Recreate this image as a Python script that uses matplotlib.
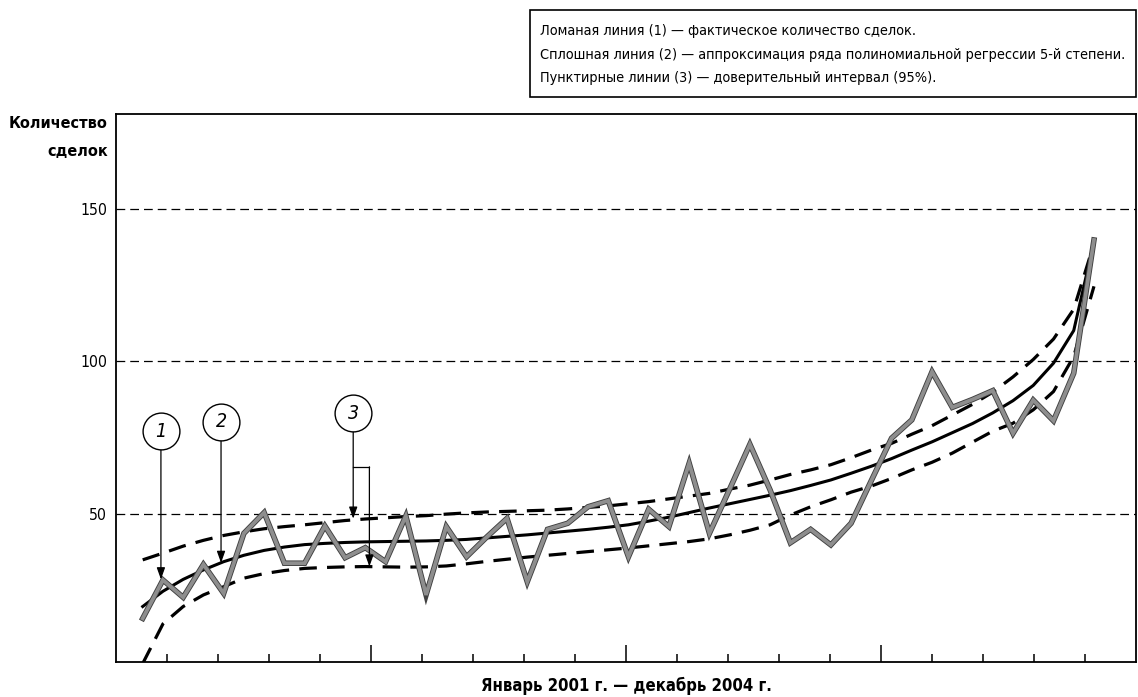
import numpy as np
import matplotlib
matplotlib.use("Agg")
import matplotlib.pyplot as plt
import matplotlib.patheffects as pe
from matplotlib import font_manager as fm
from matplotlib.patches import Rectangle

# фактическое количество сделок по месяцам, январь 2001 - декабрь 2004
actual = [15.6, 28.2, 22.5, 33.3, 23.8, 43.5, 50.3, 33.7, 33.7, 45.9, 35.5, 38.8,
          34.2, 49.2, 23.3, 45.7, 35.8, 42.3, 48.4, 27.6, 44.8, 46.8, 52.2, 54.2,
          35.8, 51.4, 45.7, 66.5, 43.5, 58.0, 72.7, 57.7, 40.4, 44.8, 39.7, 46.8,
          60.8, 74.7, 80.7, 96.5, 84.8, 87.4, 90.3, 76.3, 87.2, 80.4, 96.0, 139.7]

# аппроксимация (полином 5-й степени)
fitted = [19.5, 24.5, 28.4, 31.5, 34.2, 36.3, 37.9, 39.0, 39.8, 40.2, 40.5, 40.7,
          40.8, 40.9, 41.0, 41.2, 41.5, 42.0, 42.5, 43.0, 43.6, 44.2, 44.8, 45.5,
          46.3, 47.5, 48.8, 50.3, 51.8, 53.2, 54.6, 56.0, 57.5, 59.2, 61.0, 63.2,
          65.5, 68.0, 70.8, 73.5, 76.5, 79.5, 83.0, 87.0, 92.0, 99.3, 110.0, 139.0]

upper = [34.8, 37.0, 39.3, 41.2, 42.8, 44.0, 45.0, 45.7, 46.3, 47.0, 47.7, 48.2,
         48.6, 49.0, 49.3, 49.8, 50.2, 50.5, 50.7, 50.9, 51.1, 51.5, 52.0, 52.5,
         53.2, 53.9, 54.8, 55.7, 56.6, 58.0, 59.3, 61.0, 62.8, 64.3, 66.0, 68.3,
         70.8, 73.0, 76.0, 78.8, 82.3, 85.8, 89.8, 94.8, 100.5, 107.2, 117.0, 138.5]

lower = [0.8, 13.8, 19.5, 23.3, 26.0, 28.8, 30.3, 31.3, 32.0, 32.3, 32.5, 32.6,
         32.5, 32.4, 32.5, 32.8, 33.5, 34.3, 35.0, 35.7, 36.3, 36.9, 37.5, 38.1,
         38.7, 39.4, 40.1, 40.8, 41.7, 43.0, 44.5, 46.3, 49.5, 52.2, 54.5, 57.0,
         59.0, 61.5, 64.3, 66.8, 69.8, 73.4, 77.0, 79.6, 84.0, 90.0, 101.5, 124.5]

months = np.arange(len(actual))
y_ticks = [50, 100, 150]

legend_lines = [
    "Ломаная линия (1) — фактическое количество сделок.",
    "Сплошная линия (2) — аппроксимация ряда полиномиальной регрессии 5-й степени.",
    "Пунктирные линии (3) — доверительный интервал (95%).",
]


def pick_font():
    # в оригинале узкий шрифт; берём самый узкий из доступных
    for fam, stretch, mark in [("Liberation Sans Narrow", "normal", "Narrow"),
                               ("DejaVu Sans", "condensed", "Condensed"),
                               ("Roboto Condensed", "normal", "Condensed"),
                               ("Roboto", "normal", "Roboto")]:
        try:
            path = fm.findfont(fm.FontProperties(family=fam, stretch=stretch),
                               fallback_to_default=False)
        except ValueError:
            continue
        if mark in path:
            return fam, stretch
    return "DejaVu Sans", "normal"


FAMILY, STRETCH = pick_font()
plt.rcParams["font.family"] = [FAMILY, "DejaVu Sans"]
plt.rcParams["font.stretch"] = STRETCH


def fit_width(fig, texts, width_px):
    # подгоняем кегль под ширину надписи на исходной картинке
    r = fig.canvas.get_renderer()
    w = max(t.get_window_extent(r).width for t in texts)
    size = texts[0].get_fontsize() * width_px / w
    for t in texts:
        t.set_fontsize(size)


fig = plt.figure(figsize=(11.38, 6.97), dpi=100)
ax = fig.add_axes([0.1015, 0.0502, 0.8968, 0.7862])

xlim = (-1.344, 49.08)
ax.set_xlim(*xlim)
ax.set_ylim(1.3, 181)

# сетка
for v in y_ticks:
    ax.axhline(v, color="black", lw=0.9, ls=(0, (7, 4)), zorder=1)

ax.plot(months, upper, color="black", lw=2.3, ls=(0, (5.5, 3.2)), zorder=2)
ax.plot(months, lower, color="black", lw=2.3, ls=(0, (5.5, 3.2)), zorder=2)
ax.plot(months, fitted, color="black", lw=2.2, zorder=3)
ax.plot(months, actual, color="#8e8e8e", lw=2.7, zorder=4, solid_joinstyle="miter",
        path_effects=[pe.Stroke(linewidth=4.0, foreground="#404040"), pe.Normal()])

# оси
for s in ax.spines.values():
    s.set_linewidth(1.3)
ax.set_yticks(y_ticks)
ax.set_yticklabels([str(v) for v in y_ticks], fontsize=14)
ax.tick_params(axis="y", length=0, pad=6)

edges = np.linspace(xlim[0], xlim[1], 21)[1:-1]
major = edges[4::5]
minor = [e for i, e in enumerate(edges) if (i + 1) % 5 != 0]
ax.set_xticks(major)
ax.set_xticks(minor, minor=True)
ax.set_xticklabels([])
ax.tick_params(axis="x", which="major", direction="in", length=12, width=1.1)
ax.tick_params(axis="x", which="minor", direction="in", length=6, width=1.1)

# выноски
arrow_kw = dict(arrowstyle="-|>,head_length=0.7,head_width=0.25", color="black",
                lw=0.9, mutation_scale=10, shrinkA=0, shrinkB=0)
callouts = [("1", 0.9, 77.0, 28.4), ("2", 3.87, 80.1, 33.8)]
for label, cx, cy, tip in callouts:
    ax.annotate("", xy=(cx, tip), xytext=(cx, cy), arrowprops=arrow_kw, zorder=5)

c3x, c3y, c3tip = 10.4, 82.9, 48.3
branch_y, branch_x, branch_tip = 65.3, 11.2, 32.6
ax.annotate("", xy=(c3x, c3tip), xytext=(c3x, c3y), arrowprops=arrow_kw, zorder=5)
ax.plot([c3x, branch_x], [branch_y, branch_y], color="black", lw=0.9, zorder=5)
ax.annotate("", xy=(branch_x, branch_tip), xytext=(branch_x, branch_y),
            arrowprops=arrow_kw, zorder=5)

for label, cx, cy in [("1", 0.9, 77.0), ("2", 3.87, 80.1), ("3", c3x, c3y)]:
    ax.plot([cx], [cy], marker="o", ms=26.5, mfc="white", mec="black", mew=1.0,
            zorder=6, clip_on=False)
    ax.text(cx, cy, label, fontsize=14, style="italic", ha="center", va="center",
            zorder=7)

# подписи
ylab = fig.text(108 / 1138, 1 - 124 / 697, "Количество", fontsize=14,
                fontweight="bold", ha="right", va="center")
ylab2 = fig.text(108 / 1138, 1 - 151 / 697, "сделок", fontsize=14,
                 fontweight="bold", ha="right", va="center")
xlab = fig.text(626 / 1138, 1 - 686 / 697, "Январь 2001 г. — декабрь 2004 г.",
                fontsize=14, fontweight="bold", ha="center", va="center")

fig.patches.append(Rectangle((530 / 1138, 1 - 97 / 697), 606 / 1138, 87 / 697,
                             transform=fig.transFigure, fill=False,
                             edgecolor="black", lw=1.2))
leg = [fig.text(540 / 1138, 1 - (31 + 23.5 * i) / 697, line, fontsize=13,
                ha="left", va="center") for i, line in enumerate(legend_lines)]

fit_width(fig, [ylab, ylab2], 99)
fit_width(fig, [xlab], 292)
fit_width(fig, leg, 586)
fit_width(fig, ax.get_yticklabels(), 27)

fig.savefig("out.png", dpi=100)
